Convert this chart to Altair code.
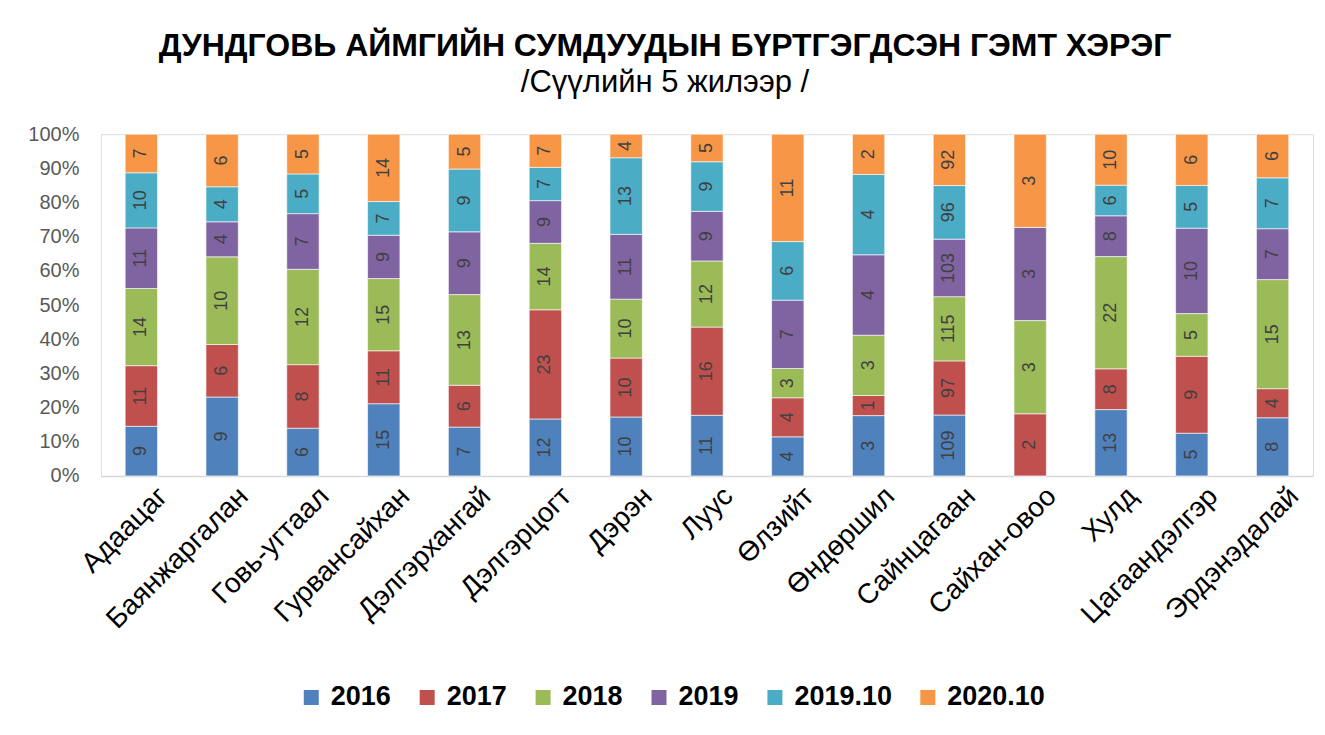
import altair as alt
import pandas as pd

categories = ["Адаацаг", "Баянжаргалан", "Говь-угтаал", "Гурвансайхан", "Дэлгэрхангай",
              "Дэлгэрцогт", "Дэрэн", "Луус", "Өлзийт", "Өндөршил", "Сайнцагаан",
              "Сайхан-овоо", "Хулд", "Цагаандэлгэр", "Эрдэнэдалай"]
series = ["2016", "2017", "2018", "2019", "2019.10", "2020.10"]
v2016 = [9, 9, 6, 15, 7, 12, 10, 11, 4, 3, 109, 0, 13, 5, 8]
v2017 = [11, 6, 8, 11, 6, 23, 10, 16, 4, 1, 97, 2, 8, 9, 4]
v2018 = [14, 10, 12, 15, 13, 14, 10, 12, 3, 3, 115, 3, 22, 5, 15]
v2019 = [11, 4, 7, 9, 9, 9, 11, 9, 7, 4, 103, 3, 8, 10, 7]
v201910 = [10, 4, 5, 7, 9, 7, 13, 9, 6, 4, 96, 0, 6, 5, 7]
v202010 = [7, 6, 5, 14, 5, 7, 4, 5, 11, 2, 92, 3, 10, 6, 6]
colors = ["#4F81BD", "#C0504D", "#9BBB59", "#8064A2", "#4BACC6", "#F79646"]
pct_ticks = [0, 0.1, 0.2, 0.3, 0.4, 0.5, 0.6, 0.7, 0.8, 0.9, 1.0]

rows = []
for si, (s, vals) in enumerate(zip(series, [v2016, v2017, v2018, v2019, v201910, v202010])):
    for c, v in zip(categories, vals):
        rows.append({"cat": c, "series": s, "idx": si, "value": v})
df = pd.DataFrame(rows)

base = alt.Chart(df).transform_stack(
    stack="value", groupby=["cat"], as_=["y0", "y1"], offset="normalize",
    sort=[alt.SortField("idx", order="ascending")]
).transform_calculate(mid="(datum.y0 + datum.y1) / 2")

x_axis = alt.Axis(labelAngle=-45, labelAlign="right", labelBaseline="top",
                  labelFontSize=28, labelColor="#000000", labelFont="Liberation Sans",
                  ticks=False, domainColor="#D9D9D9", domainWidth=1.5, labelPadding=6,
                  labelOffset=12, labelLimit=400, title=None)
y_axis = alt.Axis(format=".0%", values=pct_ticks, grid=False, labelOverlap=False,
                  domain=False, ticks=False, labelFontSize=20, labelColor="#595959",
                  labelFont="Liberation Sans", labelPadding=22, title=None)
x_scale = alt.Scale(paddingInner=0.6, paddingOuter=0.3)
y_scale = alt.Scale(domain=[0, 1], nice=False)

bars = base.mark_bar(stroke="white", strokeWidth=0.6).encode(
    x=alt.X("cat:N", sort=categories, scale=x_scale, axis=x_axis),
    y=alt.Y("y0:Q", scale=y_scale, axis=y_axis),
    y2="y1:Q",
    color=alt.Color("series:N", scale=alt.Scale(domain=series, range=colors),
                    legend=alt.Legend(title=None, orient="none", direction="horizontal",
                                      legendX=197, legendY=550,
                                      symbolType="square", symbolSize=225, labelFontSize=27,
                                      labelFontWeight="bold", labelFont="Liberation Sans",
                                      labelColor="#000000", columnPadding=22, labelOffset=6,
                                      symbolStrokeWidth=0)),
)

labels = base.transform_filter("datum.value > 0").mark_text(
    angle=270, fontSize=18, color="#404040", font="Liberation Sans"
).encode(
    x=alt.X("cat:N", sort=categories, scale=x_scale, axis=x_axis),
    y=alt.Y("mid:Q", scale=y_scale, axis=y_axis),
    text="value:Q",
)

chart = (bars + labels).properties(
    width=1213, height=342,
    title=alt.TitleParams(
        text="ДУНДГОВЬ АЙМГИЙН СУМДУУДЫН БҮРТГЭГДСЭН ГЭМТ ХЭРЭГ",
        subtitle="/Сүүлийн 5 жилээр /",
        fontSize=32, fontWeight="bold", font="Liberation Sans", color="#000000",
        subtitleFontSize=31, subtitleFont="Liberation Sans", subtitleColor="#000000",
        subtitlePadding=5,
        anchor="middle", offset=25, dx=-42,
    ),
    padding={"left": 19, "right": 4, "top": 22, "bottom": 10},
).configure_view(stroke=None).configure(background="white")

chart.save("out.html", embed_options={"renderer": "svg", "actions": False})
